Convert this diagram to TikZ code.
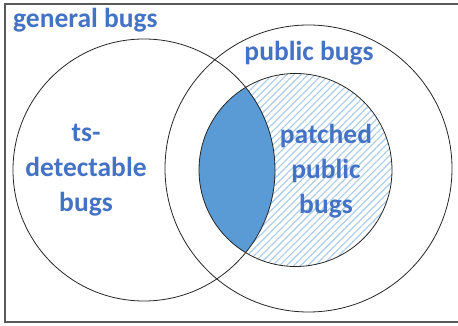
\documentclass[tikz,border=0pt]{standalone}
\usepackage{fontspec}
\setmainfont{Carlito}
\usetikzlibrary{patterns.meta}
\definecolor{txtblue}{HTML}{4472C4}
\definecolor{fillblue}{HTML}{5B9BD5}
\definecolor{hatchblue}{HTML}{A9CBEA}
\tikzset{
  lbl/.style={text=txtblue, font=\bfseries\fontsize{27.5}{35}\selectfont, align=center, inner sep=0pt},
  circ/.style={draw=black!85, line width=0.8pt},
  framestyle/.style={draw=black!65, line width=1.3pt},
}
\begin{document}
\begin{tikzpicture}[x=1pt,y=1pt]
\useasboundingbox (0,0) rectangle (458,326);
\fill[white] (0,0) rectangle (458,326);
% hatched patched region
\begin{scope}
  \clip (295.5,156) circle (96.5);
  \fill[pattern={Lines[angle=45,distance=5pt,line width=1.1pt]}, pattern color=hatchblue] (190,50) rectangle (400,260);
  \clip (144,156) circle (131);
  \fill[fillblue] (190,50) rectangle (400,260);
\end{scope}
\coordinate (tr) at (458,322);
\coordinate (tl) at (5,322);
\coordinate (bl) at (5,4);
\coordinate (br) at (458,4);
\draw[framestyle] (tr) -- (tl) -- (bl) -- (br);
\node[circ, circle, minimum size=262pt, inner sep=0pt] (ts) at (144,156) {};
\node[circ, circle, minimum size=287pt, inner sep=0pt] (pub) at (308.5,157.5) {};
\node[circ, circle, minimum size=193pt, inner sep=0pt] (pat) at (295.5,156) {};
\node[lbl, anchor=west] (gen) at (13,306) {general bugs};
\node[lbl] (publ) at (309,273) {public bugs};
\node[lbl] (tsl) at (86,156) {ts-\\detectable\\bugs};
\node[lbl] (patl) at (326,155) {patched\\public\\bugs};
\end{tikzpicture}
\end{document}
